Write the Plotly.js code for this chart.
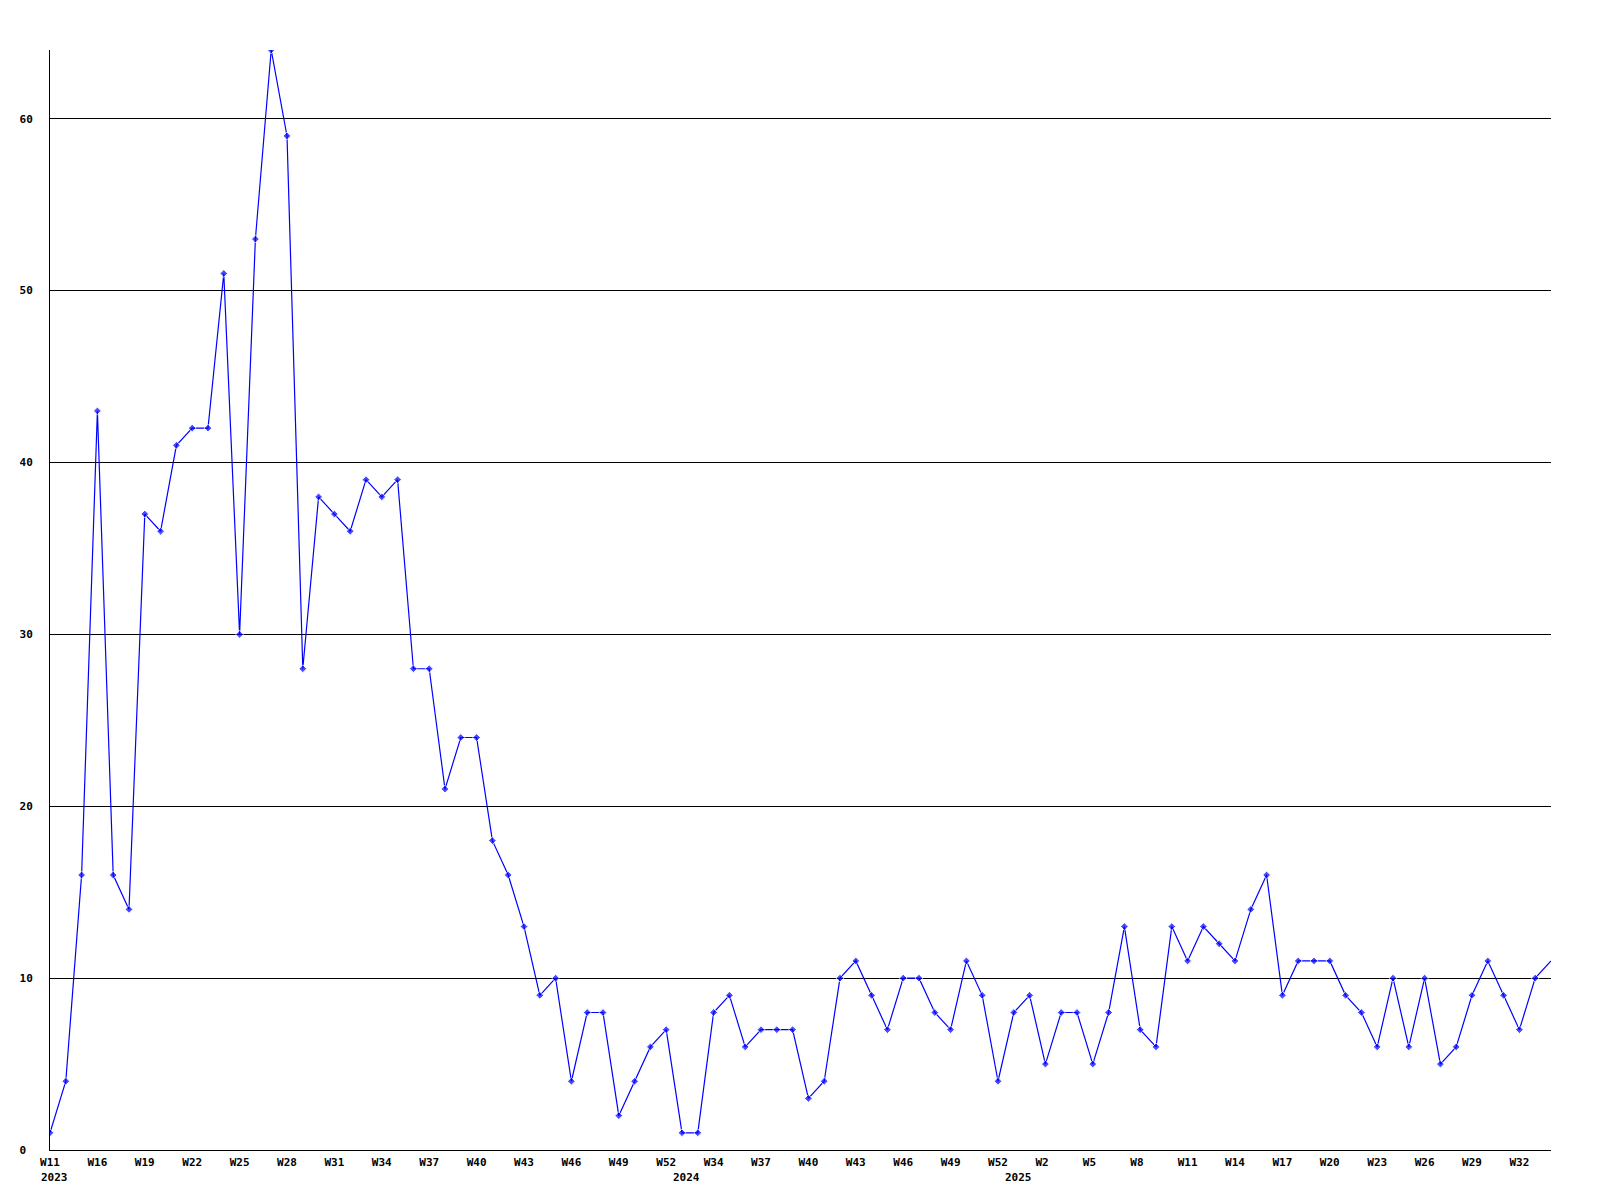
<!DOCTYPE html>
<html>
<head>
<meta charset="utf-8">
<script src="https://cdn.plot.ly/plotly-3.0.1.min.js"></script>
<style>html,body{margin:0;padding:0;background:#fff;}#chart{width:1600px;height:1200px;}</style>
</head>
<body>
<div id="chart"></div>
<script>
// Weekly values, in order (2023 W11 ... 2025 W34), categorical positions
var values = [1, 4, 16, 43, 16, 14, 37, 36, 41, 42,
              42, 51, 30, 53, 64, 59, 28, 38, 37, 36,
              39, 38, 39, 28, 28, 21, 24, 24, 18, 16,
              13, 9, 10, 4, 8, 8, 2, 4, 6, 7,
              1, 1, 8, 9, 6, 7, 7, 7, 3, 4,
              10, 11, 9, 7, 10, 10, 8, 7, 11, 9,
              4, 8, 9, 5, 8, 8, 5, 8, 13, 7,
              6, 13, 11, 13, 12, 11, 14, 16, 9, 11,
              11, 11, 9, 8, 6, 10, 6, 10, 5, 6,
              9, 11, 9, 7, 10, 11];

// Tick labels (every third point)
var tickLabels = ["W11", "W16", "W19", "W22", "W25", "W28", "W31", "W34", "W37", "W40",
                  "W43", "W46", "W49", "W52", "W34", "W37", "W40", "W43", "W46", "W49",
                  "W52", "W2", "W5", "W8", "W11", "W14", "W17", "W20", "W23", "W26",
                  "W29", "W32"];

// Year labels and the point index where each year starts
var yearLabels = ["2023", "2024", "2025"];
var yearStarts = [0, 40, 61];

var yTicks = [0, 10, 20, 30, 40, 50, 60];

var xs = values.map(function (v, i) { return i; });
var tickVals = tickLabels.map(function (t, i) { return i * 3; });
var tickText = tickLabels.map(function (t) { return t.length < 3 ? t + "\u00a0" : t; });
var yText = yTicks.map(function (v) { var s = String(v); return s.length < 2 ? s + "\u00a0" : s; });
var markerSizes = values.map(function (v, i) { return i === values.length - 1 ? 0 : 6; });

var fontMono = {family: "DejaVu Sans Mono", size: 11, color: "#000000", weight: "bold"};

var trace = {
  x: xs,
  y: values,
  type: "scatter",
  mode: "lines+markers",
  line: {color: "#0000ff", width: 1.2},
  marker: {color: "#0000ff", size: markerSizes, symbol: "diamond"},
  hoverinfo: "skip"
};

var annotations = yearLabels.map(function (t, i) {
  return {
    text: t, x: yearStarts[i], xref: "x", y: 0, yref: "paper",
    xanchor: "left", yanchor: "middle", xshift: -11, yshift: -27,
    showarrow: false, font: fontMono
  };
});

var layout = {
  width: 1600,
  height: 1200,
  margin: {l: 50, r: 49, t: 50, b: 50},
  paper_bgcolor: "#ffffff",
  plot_bgcolor: "#ffffff",
  showlegend: false,
  xaxis: {
    range: [0, values.length - 1],
    tickmode: "array",
    tickvals: tickVals,
    ticktext: tickText,
    showgrid: false,
    zeroline: false,
    showline: true,
    linecolor: "#000000",
    linewidth: 1,
    ticks: "",
    ticklabelstandoff: 2,
    tickfont: fontMono,
    fixedrange: true
  },
  yaxis: {
    range: [0, 64],
    tickmode: "array",
    tickvals: yTicks,
    ticktext: yText,
    showgrid: true,
    gridcolor: "#000000",
    gridwidth: 1,
    zeroline: false,
    showline: true,
    linecolor: "#000000",
    linewidth: 1,
    ticks: "",
    ticklabelstandoff: 14,
    tickfont: fontMono,
    fixedrange: true
  },
  annotations: annotations
};

Plotly.newPlot("chart", [trace], layout, {displayModeBar: false, staticPlot: true});
</script>
</body>
</html>
